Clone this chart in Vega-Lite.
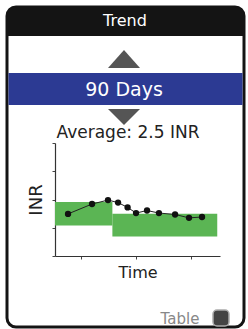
{
  "$schema": "https://vega.github.io/schema/vega-lite/v6.json",
  "width": 237,
  "height": 320,
  "autosize": {"type": "none"},
  "padding": {"left": 7, "top": 7, "right": 4, "bottom": 2},
  "background": "white",
  "config": {
    "view": {"stroke": "#141414", "strokeWidth": 3, "cornerRadius": 9, "fill": "white"},
    "font": "DejaVu Sans"
  },
  "datasets": {
    "readings": [
      {"day": 7.1, "inr": 2.39},
      {"day": 20.2, "inr": 2.74},
      {"day": 28.9, "inr": 2.88},
      {"day": 34.4, "inr": 2.79},
      {"day": 39.6, "inr": 2.62},
      {"day": 44.2, "inr": 2.42},
      {"day": 50.2, "inr": 2.51},
      {"day": 56.7, "inr": 2.42},
      {"day": 65.5, "inr": 2.37},
      {"day": 73.1, "inr": 2.25},
      {"day": 80.2, "inr": 2.28}
    ],
    "targets": [
      {"start": 0, "end": 31.3, "low": 1.98, "high": 2.81},
      {"start": 31.3, "end": 88.5, "low": 1.59, "high": 2.4}
    ]
  },
  "layer": [
    {
      "data": {"values": [{"label": "Trend"}]},
      "mark": {"type": "rect", "color": "#141414", "cornerRadiusTopLeft": 9, "cornerRadiusTopRight": 9},
      "encoding": {"x": {"value": 0}, "x2": {"value": 237}, "y": {"value": 0}, "y2": {"value": 29}}
    },
    {
      "data": {"values": [{"label": "Trend"}]},
      "mark": {"type": "text", "color": "white", "fontSize": 16, "baseline": "middle", "align": "center"},
      "encoding": {"text": {"field": "label"}, "x": {"value": 118}, "y": {"value": 14}}
    },
    {
      "data": {"values": [{"label": "up"}]},
      "mark": {"type": "point", "filled": true, "color": "#555555", "opacity": 1, "size": 1024, "shape": "M-1,0.56L1,0.56L0,-0.56Z"},
      "encoding": {"x": {"value": 117}, "y": {"value": 52}}
    },
    {
      "data": {"values": [{"label": "90 Days"}]},
      "mark": {"type": "rect", "color": "#2c3a93"},
      "encoding": {"x": {"value": 1.5}, "x2": {"value": 235.5}, "y": {"value": 66}, "y2": {"value": 98}}
    },
    {
      "data": {"values": [{"label": "90 Days"}]},
      "mark": {"type": "text", "color": "white", "fontSize": 19, "baseline": "middle", "align": "center"},
      "encoding": {"text": {"field": "label"}, "x": {"value": 117}, "y": {"value": 83}}
    },
    {
      "data": {"values": [{"label": "down"}]},
      "mark": {"type": "point", "filled": true, "color": "#555555", "opacity": 1, "size": 1024, "shape": "M-1,-0.5L1,-0.5L0,0.5Z"},
      "encoding": {"x": {"value": 117}, "y": {"value": 110}}
    },
    {
      "data": {"values": [{"label": "Average: 2.5 INR"}]},
      "mark": {"type": "text", "color": "#222222", "fontSize": 17, "baseline": "middle", "align": "center"},
      "encoding": {"text": {"field": "label"}, "x": {"value": 121}, "y": {"value": 126}}
    },
    {
      "data": {"name": "targets"},
      "mark": {"type": "rect", "color": "#5bb554"},
      "encoding": {
        "x": {"field": "start", "type": "quantitative", "title": "Time", "scale": {"domain": [0, 90], "range": [48, 213]},
          "axis": {"offset": -71, "values": [14, 44, 74], "labels": false, "tickSize": 3, "tickColor": "#444444", "domainColor": "#333333", "domainWidth": 1.2, "grid": false, "titleFontSize": 16, "titleFontWeight": "normal", "titleColor": "#222222", "titlePadding": 5, "titleFont": "DejaVu Sans"}},
        "x2": {"field": "end"},
        "y": {"field": "low", "type": "quantitative", "title": "INR", "scale": {"domain": [0.9, 4.9], "range": [249, 136]},
          "axis": {"offset": -48, "values": [0.9, 1.4, 1.9, 2.4, 2.9, 3.4, 3.9, 4.4, 4.9], "labels": false, "tickSize": 3, "tickColor": "#444444", "domainColor": "#333333", "domainWidth": 1.2, "grid": false, "titleFontSize": 18, "titleFontWeight": "normal", "titleColor": "#222222", "titlePadding": 6, "titleFont": "DejaVu Sans"}},
        "y2": {"field": "high"}
      }
    },
    {
      "data": {"name": "readings"},
      "mark": {"type": "line", "color": "#222222", "strokeWidth": 1},
      "encoding": {
        "x": {"field": "day", "type": "quantitative", "title": "Time", "scale": {"domain": [0, 90], "range": [48, 213]}},
        "y": {"field": "inr", "type": "quantitative", "title": "INR", "scale": {"domain": [0.9, 4.9], "range": [249, 136]}}
      }
    },
    {
      "data": {"name": "readings"},
      "mark": {"type": "point", "filled": true, "color": "#111111", "opacity": 1, "size": 40},
      "encoding": {
        "x": {"field": "day", "type": "quantitative", "title": "Time", "scale": {"domain": [0, 90], "range": [48, 213]}},
        "y": {"field": "inr", "type": "quantitative", "title": "INR", "scale": {"domain": [0.9, 4.9], "range": [249, 136]}}
      }
    },
    {
      "data": {"values": [{"label": "Table"}]},
      "mark": {"type": "text", "color": "#888888", "fontSize": 15, "baseline": "middle", "align": "center"},
      "encoding": {"text": {"field": "label"}, "x": {"value": 173}, "y": {"value": 312}}
    },
    {
      "data": {"values": [{"label": "icon"}]},
      "mark": {"type": "rect", "color": "#444444", "stroke": "#aaaaaa", "strokeWidth": 1.5, "cornerRadius": 4},
      "encoding": {"x": {"value": 206}, "x2": {"value": 222}, "y": {"value": 303}, "y2": {"value": 319}}
    }
  ]
}
